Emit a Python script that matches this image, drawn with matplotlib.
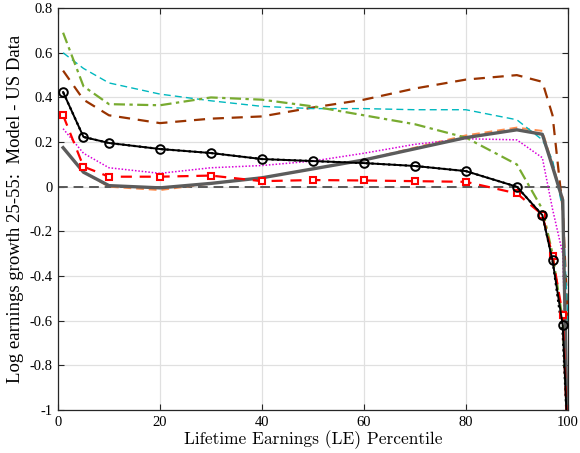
import numpy as np
import matplotlib
matplotlib.use("Agg")
import matplotlib.pyplot as plt

pct = [1, 5, 10, 20, 30, 40, 50, 60, 70, 80, 90, 95, 97, 99, 100]

circ_black = [0.424, 0.223, 0.196, 0.169, 0.151, 0.124, 0.115, 0.106, 0.093, 0.070, 0.0, -0.127, -0.33, -0.62, -1.15]
dot_black = [0.424, 0.223, 0.196, 0.169, 0.151, 0.124, 0.115, 0.106, 0.093, 0.070, 0.0, -0.127, -0.33, -0.66, -1.15]
sq_red = [0.32, 0.09, 0.045, 0.045, 0.05, 0.025, 0.03, 0.028, 0.025, 0.022, -0.03, -0.125, -0.31, -0.575, -1.15]
grey_thick = [0.175, 0.065, 0.005, -0.005, 0.015, 0.04, 0.08, 0.12, 0.17, 0.22, 0.255, 0.235, 0.09, -0.06, -1.2]
orange_light = [0.175, 0.065, 0.0, -0.015, 0.015, 0.04, 0.08, 0.12, 0.175, 0.23, 0.265, 0.25, 0.1, -0.05, -1.2]
brown_dash = [0.52, 0.39, 0.32, 0.285, 0.305, 0.315, 0.355, 0.39, 0.44, 0.48, 0.50, 0.47, 0.32, -0.1, -0.6]
cyan_dash = [0.60, 0.53, 0.465, 0.415, 0.385, 0.36, 0.35, 0.35, 0.345, 0.345, 0.30, 0.21, 0.12, -0.1, -0.6]
green_dashdot = [0.69, 0.45, 0.37, 0.365, 0.40, 0.39, 0.36, 0.32, 0.28, 0.22, 0.10, -0.10, -0.30, -0.60, -1.1]
magenta_dot = [0.26, 0.15, 0.085, 0.06, 0.085, 0.095, 0.115, 0.15, 0.19, 0.215, 0.21, 0.13, -0.10, -0.30, -1.1]

xticks = [0, 20, 40, 60, 80, 100]
yticks = [-1, -0.8, -0.6, -0.4, -0.2, 0, 0.2, 0.4, 0.6, 0.8]
yticklabels = ["-1", "-0.8", "-0.6", "-0.4", "-0.2", "0", "0.2", "0.4", "0.6", "0.8"]

fig = plt.figure(figsize=(5.8, 4.53), dpi=100)
ax = fig.add_axes([0.1, 0.095, 0.879, 0.887])

ax.grid(True, color=(0.88, 0.88, 0.88), lw=0.9)
ax.set_axisbelow(True)

ax.axhline(0, color=(0.35, 0.35, 0.35), ls=(0, (5, 3)), lw=1.4, zorder=1)

ax.plot(pct, orange_light, color=(1.0, 0.55, 0.3), ls=(0, (4, 2.5)), lw=1.4, zorder=2)
ax.plot(pct, brown_dash, color=(0.6, 0.2, 0.0), ls=(0, (5, 3.5)), lw=1.6, zorder=2)
ax.plot(pct, cyan_dash, color=(0.0, 0.72, 0.75), ls=(0, (5, 3)), lw=1.0, zorder=2)
ax.plot(pct, magenta_dot, color=(0.85, 0.0, 0.85), ls=(0, (1, 1.2)), lw=1.1, zorder=2)
ax.plot(pct, dot_black, color="black", ls=(0, (1, 1.5)), lw=1.6, zorder=2)
ax.plot(pct, green_dashdot, color=(0.47, 0.67, 0.19), ls=(0, (5, 2, 1.5, 2)), lw=1.6, zorder=3)
ax.plot(pct, grey_thick, color=(0.36, 0.36, 0.36), ls="-", lw=2.4, zorder=3)
ax.plot(pct, sq_red, color="red", ls=(0, (5, 3.5)), lw=1.6, marker="s", ms=4.6,
        mfc="white", mec="red", mew=1.5, zorder=4)
ax.plot(pct, circ_black, color="black", ls="-", lw=1.4, marker="o", ms=6.2,
        mfc="none", mec="black", mew=1.4, zorder=5)

ax.set_xlim(0, 100)
ax.set_ylim(-1, 0.8)
ax.set_xticks(xticks)
ax.set_yticks(yticks)
ax.set_yticklabels(yticklabels)

ax.tick_params(direction="in", length=4, width=0.8, top=True, right=True,
               labelsize=10.5, color=(0.15, 0.15, 0.15), pad=4)
for lab in ax.get_xticklabels() + ax.get_yticklabels():
    lab.set_fontfamily("Liberation Serif")
for sp in ax.spines.values():
    sp.set_color((0.15, 0.15, 0.15))
    sp.set_linewidth(0.9)

ax.set_ylabel("Log earnings growth 25-55:  Model - US Data", fontsize=13.5,
              family="Liberation Serif", labelpad=4)
ax.set_xlabel("Lifetime Earnings (LE) Percentile", fontsize=12.5, family="cmr10", labelpad=1)

fig.savefig("out.png", dpi=100)
